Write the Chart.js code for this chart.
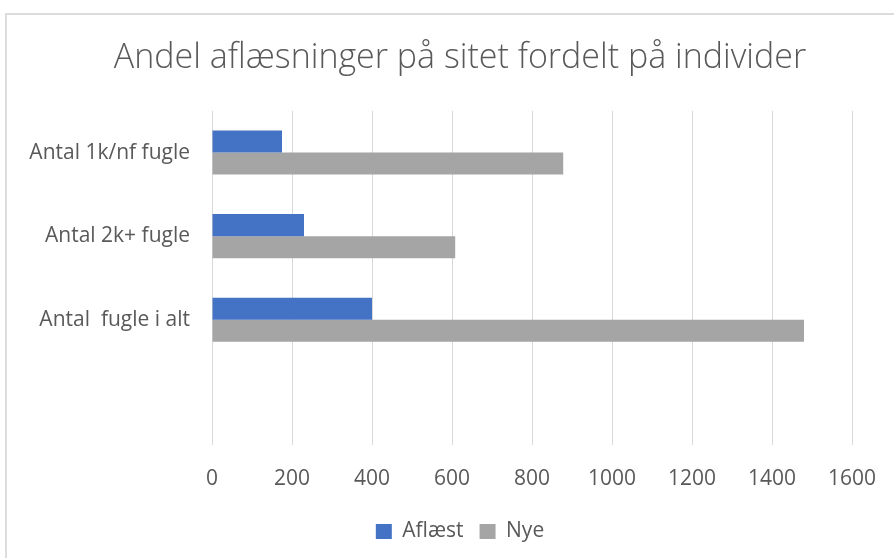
<!DOCTYPE html>
<html>
<head>
<meta charset="utf-8">
<script src="https://cdn.jsdelivr.net/npm/chart.js@4"></script>
<style>
  html, body { margin: 0; padding: 0; overflow: hidden; background: #fff; }
  #frame { position: absolute; left: 5px; top: 13px; width: 1000px; height: 700px;
           border-left: 2px solid #dcdcdc; border-top: 2px solid #dcdcdc; }
  #grafico { position: absolute; left: 0; top: 0; }
</style>
</head>
<body>
<div id="frame"></div>
<canvas id="grafico" width="920" height="558"></canvas>
<script>
// data
const categories = ["Antal 1k/nf fugle", "Antal 2k+ fugle", "Antal  fugle i alt", ""];
const aflaest = [175, 230, 400, null];
const nye = [878, 608, 1480, null];
const xTicks = [0, 200, 400, 600, 800, 1000, 1200, 1400, 1600];

const textColor = "#595959";
const fam = "'Open Sans', 'Noto Sans', sans-serif";
const ctx = document.getElementById("grafico").getContext("2d");

new Chart(ctx, {
  type: "bar",
  data: {
    labels: categories,
    datasets: [{
      label: "Aflæst",
      data: aflaest,
      backgroundColor: "#4472C4",
      barPercentage: 1,
      categoryPercentage: 0.527
    }, {
      label: "Nye",
      data: nye,
      backgroundColor: "#A5A5A5",
      barPercentage: 1,
      categoryPercentage: 0.527
    }]
  },
  options: {
    indexAxis: "y",
    responsive: false,
    animation: false,
    layout: { padding: { left: 0, right: 0, top: 0, bottom: 6 } },
    plugins: {
      tooltip: { enabled: false },
      title: {
        display: true,
        text: "Andel aflæsninger på sitet fordelt på individer",
        color: textColor,
        font: { family: fam, size: 34, weight: 300 },
        padding: { top: 38, bottom: 32 }
      },
      legend: {
        position: "bottom",
        labels: {
          color: textColor,
          boxWidth: 16,
          boxHeight: 15,
          padding: 16,
          font: { family: fam, size: 21 }
        }
      }
    },
    scales: {
      x: {
        min: 0,
        max: 1600,
        afterBuildTicks: (scale) => { scale.ticks = xTicks.map(v => ({ value: v })); },
        afterFit: (scale) => { scale.height = 60; },
        grid: { color: "#d9d9d9", drawTicks: false },
        border: { display: false },
        ticks: {
          color: textColor,
          padding: 21,
          font: { family: fam, size: 21 },
          callback: (v) => String(v)
        }
      },
      y: {
        afterFit: (scale) => { scale.width = 212; },
        grid: { display: false, drawTicks: false },
        border: { display: false },
        ticks: {
          color: textColor,
          padding: 22,
          font: { family: fam, size: 21 }
        }
      },
      // empty right-hand scale, only reserves the space right of the plot
      spacer: {
        type: "linear",
        position: "right",
        display: true,
        afterFit: (scale) => { scale.width = 68; },
        grid: { display: false },
        border: { display: false },
        ticks: { display: false }
      }
    }
  }
});
</script>
</body>
</html>
